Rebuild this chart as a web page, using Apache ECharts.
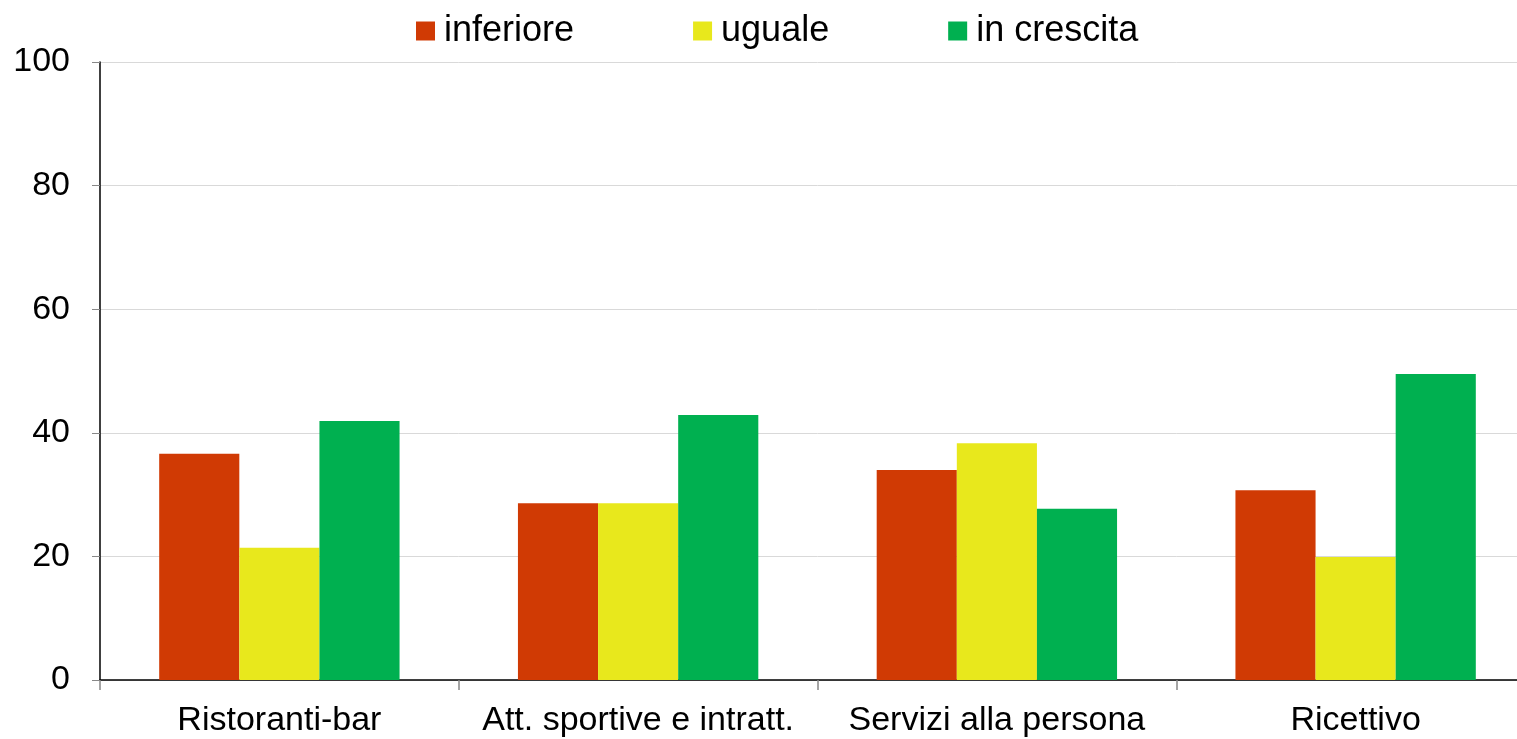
<!DOCTYPE html>
<html>
<head>
<meta charset="utf-8">
<script src="https://cdn.jsdelivr.net/npm/echarts@6/dist/echarts.min.js"></script>
<style>
  html, body { margin: 0; padding: 0; background: #fff; overflow: hidden; }
  /* plot runs a little past the right edge of the window, as in the source */
  #main { width: 1536px; height: 739px; }
</style>
</head>
<body>
<div id="main"></div>
<script>
var categories = ["Ristoranti-bar", "Att. sportive e intratt.", "Servizi alla persona", "Ricettivo"];
var inferiore = [36.6, 28.6, 34.0, 30.7];
var uguale = [21.4, 28.6, 38.3, 19.9];
var inCrescita = [41.9, 42.9, 27.7, 49.5];
var yTicks = [0, 20, 40, 60, 80, 100];

var chart = echarts.init(document.getElementById("main"));
var font = "Liberation Sans, Arial, sans-serif";

var option = {
  backgroundColor: "#fff",
  animation: false,
  textStyle: { fontFamily: font },
  legend: {
    top: 8,
    left: 411,
    itemWidth: 19,
    itemHeight: 19,
    itemGap: 119,
    icon: "rect",
    textStyle: { fontSize: 36, color: "#000", fontFamily: font, padding: [0, 0, 0, 4] },
    data: ["inferiore", "uguale", "in crescita"]
  },
  grid: {
    left: 100,
    right: 1,
    top: 62,
    bottom: 59
  },
  xAxis: {
    type: "category",
    data: categories,
    axisLine: { lineStyle: { color: "#000", width: 1.5 } },
    axisTick: { show: true, length: 10, lineStyle: { color: "#888", width: 1.5 } },
    axisLabel: { interval: 0, fontSize: 34, color: "#000", margin: 24, fontFamily: font }
  },
  yAxis: {
    type: "value",
    min: yTicks[0],
    max: yTicks[yTicks.length - 1],
    interval: 20,
    axisLine: { show: true, lineStyle: { color: "#000", width: 1.5 } },
    axisTick: { show: true, length: 8, lineStyle: { color: "#888" } },
    axisLabel: { fontSize: 34, color: "#000", margin: 30, fontFamily: font },
    splitLine: { show: true, lineStyle: { color: "#d9d9d9", width: 1 } }
  },
  series: [
    {
      name: "inferiore",
      type: "bar",
      data: inferiore,
      barGap: "0%",
      barCategoryGap: "33%",
      itemStyle: { color: "#d03a04" }
    },
    {
      name: "uguale",
      type: "bar",
      data: uguale,
      itemStyle: { color: "#e8e81c" }
    },
    {
      name: "in crescita",
      type: "bar",
      data: inCrescita,
      itemStyle: { color: "#00b050" }
    }
  ]
};
chart.setOption(option);
</script>
</body>
</html>
